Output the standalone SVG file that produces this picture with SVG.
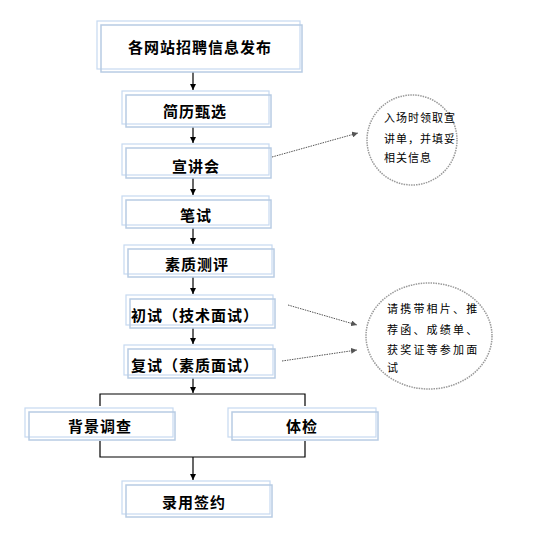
<svg xmlns="http://www.w3.org/2000/svg" width="546" height="541" viewBox="0 0 546 541">
<defs>
<style>
.back{fill:#ffffff;stroke:#c6d9f1;stroke-width:1.2}
.front{fill:none;stroke:#b8cce4;stroke-width:1.5}
.t{font-family:"Noto Sans CJK SC","Noto Sans",sans-serif;font-weight:bold;font-size:15px;fill:#000;text-anchor:middle;dominant-baseline:central;letter-spacing:1px}
.n{font-family:"Noto Sans CJK SC","Noto Sans",sans-serif;font-size:11px;fill:#000;letter-spacing:1px}
.n2{letter-spacing:2.2px}
.ln{stroke:#000;stroke-width:1.2;fill:none}
.dot{stroke:#555;stroke-width:1;stroke-dasharray:1.5,1;fill:none}
.ell{fill:#fff;stroke:#999;stroke-width:1.5;stroke-dasharray:1.5,1}
</style>
<marker id="ah" viewBox="0 0 8 8" refX="8" refY="4" markerWidth="6" markerHeight="6" markerUnits="userSpaceOnUse" orient="auto">
<path d="M0,0 L8,4 L0,8 z" fill="#000"/>
</marker>
<marker id="ahg" viewBox="0 0 8 8" refX="8" refY="4" markerWidth="6" markerHeight="6" markerUnits="userSpaceOnUse" orient="auto">
<path d="M0,0 L8,4 L0,8 z" fill="#555"/>
</marker>
</defs>
<rect width="546" height="541" fill="#fff"/>

<g id="connectors">
<line class="ln" x1="193" y1="72" x2="193" y2="90" marker-end="url(#ah)"/>
<line class="ln" x1="193" y1="127" x2="193" y2="143" marker-end="url(#ah)"/>
<line class="ln" x1="193" y1="178" x2="193" y2="195" marker-end="url(#ah)"/>
<line class="ln" x1="193" y1="228" x2="193" y2="244" marker-end="url(#ah)"/>
<line class="ln" x1="193" y1="277" x2="193" y2="294" marker-end="url(#ah)"/>
<line class="ln" x1="193" y1="328" x2="193" y2="344" marker-end="url(#ah)"/>
<line class="ln" x1="193" y1="378" x2="193" y2="393" marker-end="url(#ah)"/>
<polyline class="ln" points="100,406 100,394 305,394 305,406"/>
<polyline class="ln" points="100,441 100,457 305,457 305,441"/>
<line class="ln" x1="193" y1="457" x2="193" y2="480" marker-end="url(#ah)"/>
<line class="dot" x1="272" y1="157" x2="358" y2="133" marker-end="url(#ahg)"/>
<line class="dot" x1="288" y1="305" x2="357" y2="325" marker-end="url(#ahg)"/>
<line class="dot" x1="282" y1="361" x2="357" y2="350" marker-end="url(#ahg)"/>
</g>

<g id="n1"><rect class="back" x="97" y="21" width="203" height="48"/><rect class="front" x="101" y="25" width="201" height="47"/><text class="t" x="200" y="46">各网站招聘信息发布</text></g>
<g id="n2"><rect class="back" x="122" y="91" width="147" height="33"/><rect class="front" x="126" y="95" width="145" height="32"/><text class="t" x="195" y="110">简历甄选</text></g>
<g id="n3"><rect class="back" x="122" y="144" width="147" height="31"/><rect class="front" x="126" y="148" width="145" height="30"/><text class="t" x="196" y="165">宣讲会</text></g>
<g id="n4"><rect class="back" x="122" y="196" width="147" height="29"/><rect class="front" x="126" y="200" width="145" height="28"/><text class="t" x="196" y="214">笔试</text></g>
<g id="n5"><rect class="back" x="124" y="245" width="148" height="29"/><rect class="front" x="128" y="249" width="146" height="28"/><text class="t" x="197" y="263">素质测评</text></g>
<g id="n6"><rect class="back" x="126" y="295" width="147" height="30"/><rect class="front" x="130" y="299" width="145" height="29"/><text class="t" x="195" y="314">初试（技术面试）</text></g>
<g id="n7"><rect class="back" x="124" y="345" width="149" height="30"/><rect class="front" x="128" y="349" width="147" height="29"/><text class="t" x="195" y="364">复试（素质面试）</text></g>
<g id="n8"><rect class="back" x="25" y="408" width="148" height="29"/><rect class="front" x="29" y="412" width="146" height="28"/><text class="t" x="100" y="425">背景调查</text></g>
<g id="n9"><rect class="back" x="228" y="408" width="148" height="29"/><rect class="front" x="232" y="412" width="146" height="28"/><text class="t" x="302" y="425">体检</text></g>
<g id="n10"><rect class="back" x="122" y="481" width="148" height="33"/><rect class="front" x="126" y="485" width="146" height="32"/><text class="t" x="194" y="501">录用签约</text></g>

<g id="note1"><ellipse class="ell" cx="412" cy="140" rx="45" ry="45"/>
<text class="n" x="384" y="122">入场时领取宣</text>
<text class="n" x="384" y="143">讲单，并填妥</text>
<text class="n" x="384" y="162">相关信息</text></g>
<g id="note2"><ellipse class="ell" cx="429" cy="336" rx="63" ry="53"/>
<text class="n n2" x="387" y="313">请携带相片、推</text>
<text class="n n2" x="387" y="334">荐函、成绩单、</text>
<text class="n n2" x="387" y="354">获奖证等参加面</text>
<text class="n n2" x="387" y="372">试</text></g>
</svg>
